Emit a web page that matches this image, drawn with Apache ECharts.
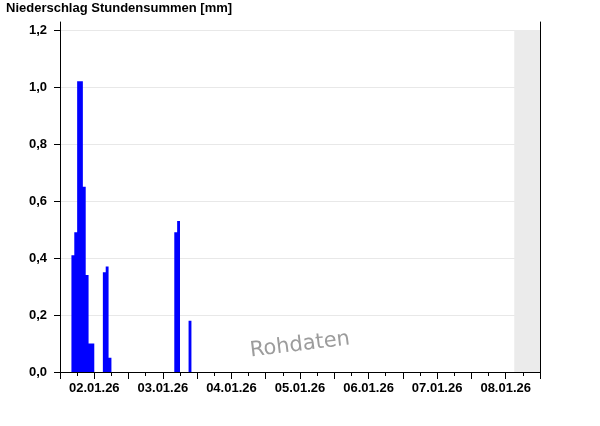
<!DOCTYPE html>
<html>
<head>
<meta charset="utf-8">
<script src="https://cdn.jsdelivr.net/npm/echarts@6/dist/echarts.min.js"></script>
<style>
html, body { margin: 0; padding: 0; background: #fff; }
#main { width: 600px; height: 426px; }
</style>
</head>
<body>
<div id="main"></div>
<script>
// Stunden seit 02.01.26 00:00 (Beginn der Stundensumme)
const hours = [4, 5, 6, 7, 8, 9, 10, 11, 15, 16, 17, 40, 41, 45];
const values = [0.41, 0.49, 1.02, 1.02, 0.65, 0.34, 0.10, 0.10, 0.35, 0.37, 0.05, 0.49, 0.53, 0.18];
const days = ['02.01.26', '03.01.26', '04.01.26', '05.01.26', '06.01.26', '07.01.26', '08.01.26'];
const yTicks = [0, 0.2, 0.4, 0.6, 0.8, 1.0, 1.2];
const futureStart = 159; // 08.01.26 15:00, noch keine Daten
const axisEnd = 168;

const font = 'Liberation Sans, Arial, sans-serif';

// Tickpositionen: alle 6 h kurz, alle 12 h lang
let ticks6 = [], ticks12 = [];
for (let h = 0; h <= axisEnd; h += 6) {
  ticks6.push(h);
  if (h % 12 == 0) ticks12.push(h);
}
const labelPos = days.map((d, i) => i * 24 + 12);

const chart = echarts.init(document.getElementById('main'));
const plotW = 600 - 60 - 60;

const option = {
  animation: false,
  backgroundColor: '#fff',
  title: {
    text: 'Niederschlag Stundensummen [mm]',
    left: 6,
    top: 2,
    padding: 0,
    textStyle: { fontFamily: font, fontSize: 13, fontWeight: 'bold', color: '#000' }
  },
  grid: [
    { left: 60, right: 60, top: 22, bottom: 54 },   // Rahmen
    { left: 60, right: 60, top: 30, bottom: 54 }    // Diagramm
  ],
  xAxis: [
    {
      gridIndex: 0, type: 'value', min: 0, max: axisEnd,
      axisLine: { show: false },
      axisTick: { show: true, customValues: ticks12, length: 7, lineStyle: { color: '#000' } },
      axisLabel: { show: false },
      splitLine: { show: false }
    },
    {
      gridIndex: 1, type: 'value', min: 0, max: axisEnd,
      axisLine: { show: true, lineStyle: { color: '#000', width: 1 } },
      axisTick: { show: true, customValues: ticks6, length: 4, lineStyle: { color: '#000' } },
      axisLabel: {
        customValues: labelPos,
        margin: 10,
        fontFamily: font, fontSize: 13, fontWeight: 'bold', color: '#000',
        formatter: v => days[Math.round((v - 12) / 24)]
      },
      splitLine: { show: false }
    }
  ],
  yAxis: [
    {
      gridIndex: 0, type: 'value', min: 0, max: 1,
      axisLine: { show: true, lineStyle: { color: '#000' } },
      axisTick: { show: false }, axisLabel: { show: false }, splitLine: { show: false }
    },
    {
      gridIndex: 0, type: 'value', min: 0, max: 1, position: 'right',
      axisLine: { show: true, lineStyle: { color: '#000' } },
      axisTick: { show: false }, axisLabel: { show: false }, splitLine: { show: false }
    },
    {
      gridIndex: 1, type: 'value', min: 0, max: 1.2, interval: 0.2,
      axisLine: { show: false },
      axisTick: { show: true, length: 6, lineStyle: { color: '#000' } },
      axisLabel: {
        margin: 13,
        fontFamily: font, fontSize: 13, fontWeight: 'bold', color: '#000',
        formatter: v => v.toFixed(1).replace('.', ',')
      },
      splitLine: { show: true, lineStyle: { color: '#e8e8e8', width: 1 } }
    }
  ],
  graphic: [
    {
      type: 'text',
      x: 300, y: 345,
      rotation: 0.12,
      style: {
        text: 'Rohdaten',
        fontFamily: 'DejaVu Sans, sans-serif',
        fontSize: 21,
        fill: '#9c9c9c',
        align: 'center',
        verticalAlign: 'middle',
        shadowColor: '#4a4a4a',
        shadowOffsetX: -1,
        shadowOffsetY: 0,
        shadowBlur: 0
      },
      z: 1
    }
  ],
  series: [
    {
      type: 'bar',
      xAxisIndex: 1,
      yAxisIndex: 2,
      large: true,
      largeThreshold: 1,
      barWidth: plotW / axisEnd,
      itemStyle: { color: '#0000ff' },
      data: hours.map((h, i) => [h + 0.5, values[i]]),
      markArea: {
        silent: true,
        itemStyle: { color: '#ebebeb' },
        data: [[{ xAxis: futureStart, yAxis: 0 }, { xAxis: axisEnd, yAxis: 1.2 }]]
      }
    }
  ]
};
chart.setOption(option);
</script>
</body>
</html>
